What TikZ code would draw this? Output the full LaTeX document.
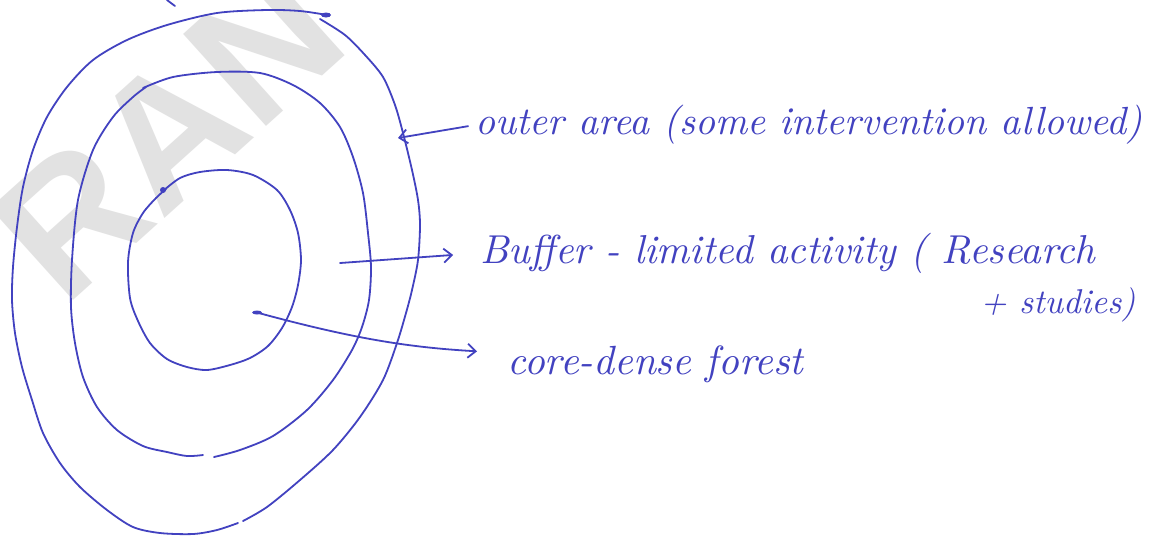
\documentclass[tikz,border=0pt]{standalone}
\usepackage{fontspec}
\newfontfamily\markfont{Liberation Sans}
\usetikzlibrary{arrows.meta}
\definecolor{ink}{RGB}{66,66,192}
\definecolor{wmark}{RGB}{226,226,226}
\tikzset{
  pen/.style={draw=ink, line width=0.9pt, line cap=round, line join=round},
  barb/.style={-{Straight Barb[length=4pt,width=7pt]}},
  note/.style={text=ink, inner sep=0pt, font=\itshape},
  inkdot/.style={fill=ink, draw=none},
}
\begin{document}
\begin{tikzpicture}[x=0.5pt, y=-0.5pt]
\useasboundingbox (0,0) rectangle (1160,537);
\fill[white] (0,0) rectangle (1160,537);

% faint stamp across the upper left
\begin{scope}
  \clip (0,0) rectangle (1160,537);
  \node[text=wmark, inner sep=0pt, rotate=42, font=\markfont\bfseries\fontsize{90pt}{90pt}\selectfont]
    (stamp) at (168,132) {RAN};
\end{scope}

% outer ring (drawn in two strokes)
\draw[pen] plot[smooth] coordinates {
  (320,19) (345,35) (365,55) (383,77) (395,105) (403,133) (412,170) (418,200)
  (420,225) (418,260) (412,290) (406,313) (397,343) (383,380) (360,417)
  (333,450) (300,480) (267,507) (243,521)};
\draw[pen] plot[smooth] coordinates {
  (238,523) (217,530) (193,534) (160,533) (133,527) (107,510) (80,487) (60,463)
  (43,433) (32,400) (22,367) (15,333) (12,300) (13,267) (17,227) (23,187)
  (33,150) (47,117) (67,87) (93,60) (127,40) (167,25) (217,13) (267,10)
  (300,11) (327,15)};
\fill[inkdot] (326,15) ellipse (5 and 2.5);

% middle ring
\draw[pen] plot[smooth] coordinates {
  (143,88) (173,77) (217,72) (260,73) (293,85) (320,103) (340,127) (353,157)
  (363,193) (368,233) (371,267) (369,300) (362,327) (352,350) (333,380)
  (307,410) (273,436) (240,450) (214,457)};
\draw[pen] plot[smooth] coordinates {
  (203,455) (187,456) (167,452) (143,446) (117,430) (97,407) (83,377) (75,343)
  (71,307) (72,260) (78,200) (93,150) (113,117) (133,97) (146,87)};

% inner ring
\draw[pen] plot[smooth] coordinates {
  (163,191) (180,178) (200,172) (227,170) (253,175) (277,190) (290,210)
  (298,233) (301,260) (298,285) (292,307) (282,328) (268,346) (250,358)
  (230,365) (207,370) (187,367) (167,359) (150,343) (138,321) (130,298)
  (128,262) (133,233) (143,213) (156,198) (166,189)};
\fill[inkdot] (163,190) circle (3);

% stray mark at the top edge
\draw[pen] (167,0) -- (175,6);

% labels
\node[note, anchor=west] (outer) at (475,125)
  {\resizebox{333.5pt}{!}{outer area (some intervention allowed)}};
\node[note, anchor=west] (buffer) at (480,253)
  {\resizebox{307.5pt}{!}{Buffer - limited activity ( Research}};
\node[note, anchor=west] (buffer2) at (980,305)
  {\resizebox{77.5pt}{!}{+ studies)}};
\node[note, anchor=west] (core) at (507,364)
  {\resizebox{148pt}{!}{core-dense forest}};

% connector end points on the rings
\coordinate (outerhit) at (398,138);
\coordinate (bufferfrom) at (340,263);
\coordinate (corefrom) at (255,312);

% connectors
\draw[pen, barb, shorten <=3.5pt] (outer.west) -- (outerhit);
\draw[pen, barb, shorten >=13.5pt] (bufferfrom) -- (buffer.west);
\draw[pen, barb, shorten >=15pt] (corefrom) to[bend right=6] ([yshift=5.5pt]core.west);
\fill[inkdot] (257,312.5) ellipse (5 and 2);
\end{tikzpicture}
\end{document}
